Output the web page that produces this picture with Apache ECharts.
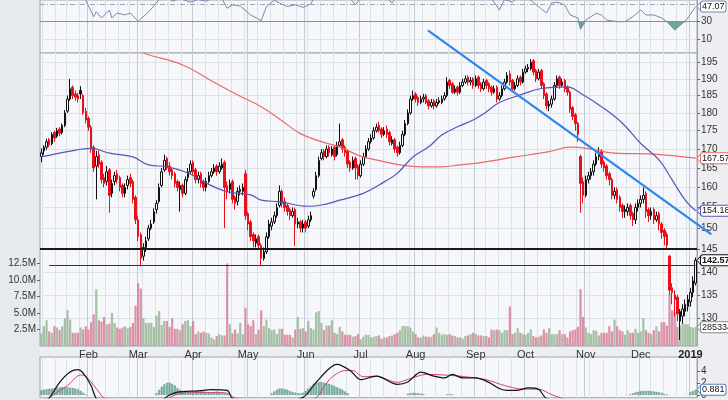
<!DOCTYPE html>
<html><head><meta charset="utf-8">
<script src="https://cdn.jsdelivr.net/npm/echarts@6/dist/echarts.min.js"></script>
<style>html,body{margin:0;padding:0;background:#eceef1}#c{width:728px;height:400px}</style>
</head><body><div id="c"></div><script>
// ---------- data ----------
const START = [2018, 0, 5];
const N = 251;
const holidays = ['2018-01-15','2018-02-19','2018-03-30','2018-05-28','2018-07-04','2018-09-03','2018-11-22','2018-12-05','2018-12-25','2019-01-01'];
const monthTicks = ['Feb','Mar','Apr','May','Jun','Jul','Aug','Sep','Oct','Nov','Dec','2019'];
const priceTicks = [130,135,140,145,150,155,160,165,170,175,180,185,190,195];
const volTicks = [2.5e6,5e6,7.5e6,10e6,12.5e6];
const rsiTicks = [10,30];
const macdTicks = [0,2,4];

const open = [
168.0,169.5,170.5,172.5,171.5,174.5,173.5,175.5,174.5,176.5,
180.5,184.0,187.5,185.5,185.0,186.5,185.0,180.5,178.5,176.0,
170.5,165.5,168.5,166.5,162.5,161.5,164.5,158.5,161.5,163.5,
162.5,160.5,158.5,160.5,162.5,161.5,157.5,152.0,148.5,143.5,
145.5,147.5,150.0,151.5,154.5,156.5,160.5,164.5,167.5,165.5,
164.5,163.5,161.5,159.5,160.5,158.5,162.5,164.0,166.5,164.5,
162.0,163.5,161.5,160.0,161.5,163.0,164.0,165.5,164.0,165.0,
166.5,160.5,159.5,161.5,157.5,156.5,159.0,159.0,163.5,153.5,
151.5,148.5,146.5,148.0,146.0,143.0,144.5,148.0,150.5,151.5,
153.0,155.5,159.0,156.5,155.5,154.5,153.0,154.5,151.0,151.5,
150.0,151.5,150.5,152.0,157.8,159.5,163.0,167.5,169.5,168.0,
170.5,168.5,170.5,168.5,171.0,172.5,170.5,169.5,166.5,165.0,
167.5,165.5,163.0,166.0,168.0,170.0,172.0,173.0,175.0,176.5,
175.5,174.0,175.5,174.5,171.5,172.5,170.5,169.0,171.0,174.0,
177.0,180.0,184.0,185.5,184.5,183.0,184.0,185.0,183.5,182.0,
183.5,182.0,183.0,183.0,184.0,185.0,189.5,188.5,186.0,187.5,
186.0,188.0,189.0,190.5,189.0,190.0,188.0,190.5,188.5,187.0,
189.5,188.5,187.5,186.0,187.5,184.0,185.0,187.0,189.0,191.5,
189.5,187.0,188.0,190.5,189.0,192.0,193.0,193.0,195.5,192.5,
190.0,192.5,188.5,185.5,182.0,182.5,184.0,188.0,190.5,188.0,
189.5,187.5,186.0,181.5,179.5,177.0,168.0,161.5,158.0,162.0,
163.0,164.0,166.0,168.0,169.5,166.5,165.5,163.5,162.0,158.0,
159.5,157.5,155.5,154.0,154.0,155.5,153.5,152.0,155.0,156.0,
157.0,158.5,154.5,153.0,154.5,152.0,153.5,151.0,149.5,148.5,
143.5,136.5,135.0,134.5,129.5,130.5,131.5,132.5,133.5,135.5,
137.5];
const close = [
169.0,170.5,172.0,171.2,174.0,173.0,175.0,174.3,176.5,180.0,
184.0,187.0,185.0,184.5,184.0,185.5,180.0,178.0,176.0,170.0,
165.0,168.0,166.0,162.0,161.0,164.0,158.0,161.0,163.0,162.0,
160.0,158.5,160.0,162.0,161.0,157.0,152.0,148.0,143.0,145.5,
147.0,150.0,151.0,154.0,156.0,160.0,164.0,167.0,165.0,164.0,
163.0,161.0,160.0,160.5,158.5,162.0,164.0,166.0,164.0,162.0,
163.0,161.0,160.0,161.5,163.0,164.0,165.0,164.0,165.5,166.0,
160.0,159.0,161.0,157.0,156.0,159.0,159.5,160.0,153.0,151.0,
148.0,147.0,147.5,146.0,143.0,144.5,148.0,151.0,151.5,153.0,
155.0,159.0,156.0,155.0,154.0,153.0,154.0,151.0,151.5,150.0,
151.0,150.0,152.0,153.0,159.0,163.0,167.0,169.0,168.0,170.0,
169.0,170.0,168.0,171.0,172.0,170.0,169.0,166.0,165.0,167.0,
165.0,163.0,166.0,168.0,170.0,172.0,173.0,175.0,176.0,175.0,
174.0,175.0,174.0,172.0,172.5,170.0,169.0,171.0,174.0,177.0,
180.0,184.0,185.0,184.0,183.0,184.0,184.5,183.0,182.0,183.0,
182.0,183.0,183.5,184.0,185.0,189.0,188.0,186.0,187.0,186.0,
188.0,189.0,190.0,189.0,189.5,188.0,190.0,188.0,187.0,189.0,
188.0,187.0,186.0,187.0,184.0,185.0,187.0,189.0,191.0,189.0,
187.0,188.0,190.0,189.0,192.0,193.0,193.5,195.0,192.0,190.0,
192.0,188.0,185.0,182.0,182.5,184.0,188.0,190.0,188.0,189.0,
187.0,186.0,181.0,179.0,177.0,174.0,161.0,158.0,162.0,163.0,
164.0,166.0,168.0,169.0,166.0,165.0,163.0,162.0,158.0,159.0,
157.0,155.0,154.0,154.5,155.0,153.0,152.0,155.0,156.0,157.0,
158.0,154.0,153.0,154.0,152.0,153.0,151.0,149.0,148.0,146.0,
136.0,135.5,134.0,131.0,131.5,132.0,133.0,134.0,135.5,138.0,
142.57];
const high = [
170.2,171.0,172.8,173.0,174.6,175.0,175.8,176.0,177.0,180.8,
185.0,190.0,188.0,186.5,185.8,187.8,185.5,181.5,179.0,176.5,
171.0,169.5,169.5,167.0,163.5,165.5,165.0,162.0,164.0,164.5,
163.0,161.0,161.0,163.0,163.5,162.0,158.0,153.0,149.0,146.5,
148.0,150.8,152.0,154.8,156.8,161.0,165.0,168.5,168.0,166.5,
165.0,164.0,162.0,161.5,161.0,162.8,165.0,167.0,167.0,165.0,
164.0,164.0,162.0,162.5,164.0,165.0,166.0,166.0,166.5,167.5,
167.0,161.5,162.0,162.0,158.0,160.0,160.5,161.0,164.5,154.0,
152.0,149.0,148.5,148.5,146.5,145.5,149.0,152.0,152.5,154.0,
156.0,160.5,159.5,157.5,156.0,155.0,155.0,155.0,152.5,152.0,
152.0,152.0,153.0,154.0,159.8,164.0,168.0,170.0,170.0,171.0,
171.0,170.8,171.0,172.0,177.0,173.0,171.0,170.0,167.0,168.0,
168.0,166.0,167.0,169.0,171.0,173.0,174.0,176.0,177.0,177.5,
176.0,176.0,176.5,175.0,173.5,173.0,171.0,172.0,175.0,178.0,
181.0,185.0,186.5,186.0,185.0,185.0,185.5,185.5,184.0,184.0,
184.0,184.0,184.5,185.0,186.0,190.5,190.0,189.0,188.0,188.0,
189.0,190.0,191.0,191.0,190.5,190.5,191.0,191.0,189.0,190.0,
190.0,189.0,188.0,188.0,188.0,186.0,188.0,190.0,192.0,192.5,
190.0,189.0,191.0,191.0,193.0,194.0,194.5,196.0,196.0,193.0,
193.0,193.0,189.0,186.0,183.5,185.0,189.0,191.0,191.0,190.0,
190.0,188.0,186.5,182.0,180.0,177.5,168.5,162.5,163.0,164.0,
165.0,167.0,169.0,170.5,170.0,167.0,166.0,164.0,162.5,160.0,
160.0,158.0,156.0,155.5,156.0,156.0,154.0,156.0,157.0,158.0,
160.0,159.0,155.0,155.0,155.0,154.0,154.0,151.5,150.0,149.0,
143.8,137.5,136.0,135.0,132.0,133.0,134.0,135.0,136.5,139.0,
143.2];
const low = [
166.5,168.5,169.8,170.5,171.0,172.0,173.0,173.5,174.0,176.0,
180.0,183.5,184.0,183.5,183.0,184.0,179.5,177.0,175.0,169.0,
164.0,157.0,165.0,161.0,160.0,160.5,153.7,157.5,160.5,161.0,
159.0,157.5,157.5,159.5,160.0,156.0,151.0,147.0,141.2,142.5,
144.5,147.0,149.5,151.0,153.5,156.0,160.0,164.0,164.5,163.0,
162.0,160.0,159.0,154.0,157.5,158.0,161.5,163.5,163.0,161.0,
161.0,160.0,159.0,159.0,161.0,162.5,163.5,163.0,163.5,164.5,
150.0,157.0,158.5,156.0,154.5,155.5,158.0,158.0,152.0,149.5,
147.0,145.5,145.5,145.0,141.5,142.5,144.0,147.5,149.5,151.0,
152.5,155.0,155.0,154.0,153.0,152.0,152.5,145.8,150.0,149.0,
149.0,149.0,150.0,151.5,157.2,159.0,162.5,167.0,167.0,167.5,
168.0,168.0,167.0,168.0,170.5,169.0,168.0,165.0,164.0,164.5,
162.0,162.0,162.5,165.5,167.5,169.5,171.5,172.5,174.5,174.5,
173.0,173.5,173.0,171.0,171.0,169.0,168.0,168.5,170.5,173.5,
176.5,179.5,183.5,183.0,182.0,182.5,183.0,182.5,181.0,181.5,
181.0,181.5,182.5,182.5,183.5,184.5,187.0,185.5,185.5,185.0,
185.5,187.5,188.5,188.0,188.0,187.0,187.5,187.0,186.0,186.5,
187.0,186.0,185.0,185.5,183.0,183.5,184.5,186.5,188.5,188.0,
186.0,186.5,187.5,188.0,188.5,191.5,192.0,192.5,191.0,189.0,
189.5,187.0,184.0,181.0,180.5,181.5,183.5,187.5,187.0,187.5,
186.0,185.0,180.0,178.0,175.0,172.0,153.7,156.0,157.5,161.0,
162.0,163.0,165.5,167.0,165.0,164.0,162.0,160.5,157.0,157.0,
156.0,154.0,152.5,152.5,153.0,152.0,150.5,151.0,154.0,155.0,
156.0,152.5,151.5,152.0,151.0,151.5,149.5,147.5,146.0,145.2,
135.0,133.0,130.5,129.5,125.7,129.0,130.5,131.5,132.5,134.5,
137.0];
// volume in millions of shares
const volumeM = [
1.9,3.0,3.9,2.2,2.0,3.0,2.8,2.4,3.0,4.2,
5.4,4.0,2.0,2.0,2.0,2.8,2.5,3.0,2.5,3.6,
4.8,8.6,3.9,3.7,4.4,3.3,3.4,5.0,3.5,2.8,
2.6,2.8,3.0,2.7,2.9,3.5,6.1,9.5,8.7,4.2,
3.5,3.5,3.5,2.9,4.6,5.3,3.2,3.8,3.8,2.9,4.2,
2.6,2.6,2.4,3.3,3.8,3.9,3.0,3.8,1.8,2.2,
2.0,2.2,2.0,1.9,1.3,1.0,1.5,1.8,1.6,1.6,
12.5,3.3,1.9,2.5,1.9,3.5,1.8,5.8,3.3,3.0,
3.9,1.8,2.5,5.4,3.0,4.0,2.7,2.4,2.5,1.8,
2.6,2.6,1.7,1.7,1.7,1.3,2.5,4.4,2.6,2.7,
2.2,3.8,2.7,2.5,5.1,5.3,3.5,2.4,3.1,3.1,3.9,
2.0,1.8,2.9,2.2,1.7,1.7,1.7,1.4,1.5,1.8,
1.0,1.4,
1.7,1.7,1.3,1.4,1.5,1.6,1.1,1.3,1.3,1.5,
1.6,1.8,2.0,2.4,3.0,3.0,3.0,2.8,2.2,1.8,
1.3,1.3,1.6,1.4,1.4,1.4,1.8,2.8,2.0,1.7,
1.8,1.7,1.8,1.6,1.5,1.3,1.3,1.1,1.5,1.6,1.8,
2.0,1.8,1.6,1.6,1.5,1.5,1.3,2.5,2.4,2.5,
2.4,2.0,2.4,2.4,6.0,1.8,2.0,2.7,2.0,1.8,
1.7,2.0,2.5,1.5,1.3,1.4,1.6,2.5,2.0,2.7,1.8,
1.8,1.8,2.4,1.8,1.8,1.3,2.2,2.4,2.5,2.9,
8.6,4.4,2.8,2.0,1.8,2.4,2.3,1.6,2.0,2.0,2.0,
3.0,2.2,4.0,3.0,2.4,2.2,1.7,2.4,2.0,2.0,
2.6,2.0,2.2,4.2,2.4,2.0,1.8,2.4,3.0,2.2,
3.6,3.6,3.1,7.9,5.4,5.1,2.9,3.1,3.5,3.3,
3.3,2.9,2.8,2.85334];
// moving averages read at [day index, value]
const ma50Pts = [[0,167.9],[10,169.3],[19,170.2],[26,168.9],[35,167.9],[41,165.8],[48,165.3],[56,163.7],[63,161.1],[71,158.9],[80,158.1],[84,156.8],[91,156.4],[102,155.3],[107,155.6],[114,156.8],[123,158.5],[131,161.4],[136,163.6],[142,167.9],[148,170.6],[153,173.8],[159,176.1],[165,178.0],[170,180.3],[175,183.0],[183,185.2],[191,187.1],[201,187.6],[206,185.7],[214,181.8],[222,177.1],[229,171.5],[236,167.1],[241,161.9],[246,156.8],[250,154.18]];
const ma200Pts = [[30,201.5],[39,197.9],[54,194.2],[67,188.5],[76,184.8],[84,181.8],[91,178.3],[99,174.2],[107,172.0],[114,170.6],[122,168.1],[130,166.8],[137,165.8],[145,165.3],[153,165.3],[160,165.8],[168,166.4],[181,167.9],[194,169.3],[202,170.5],[210,170.0],[219,168.9],[232,168.7],[240,168.3],[250,167.57]];
const rsiPts = [[0,62],[8,70],[14,66],[17,54],[20,35.5],[21,41],[23,34],[26,43],[27,34],[29,39.7],[32,37.4],[34,39.7],[37,30.2],[41,41],[44,51],[45,56],[48,60],[50,53],[53,56],[57,52],[60,55],[63,53],[66,57],[69,56],[71,45],[73,48.8],[76,47.6],[80,37.4],[84,31],[86,46.8],[89,54],[91,51],[94,47],[97,49],[100,46],[103,50],[105,62],[112,65],[118,56],[120,49],[122,56],[128,62],[132,57],[134,51],[136,58],[145,68],[160,66],[171,58],[173,52],[175,43],[177,55],[180,52],[183,60],[187,54],[190,46.8],[193,39.7],[195,51],[197,52],[200,48.8],[202,37.4],[205,34],[206,21],[208,31.7],[212,39.3],[214,37.4],[216,31.7],[220,29.8],[223,29.8],[226,35.5],[229,43],[231,37.4],[234,37.4],[237,34],[239,29.8],[242,20.3],[245,28],[247,34],[250,47.07]];
const macdPts = [[0,-1.2],[3,-0.5],[7,2.15],[11,3.9],[14,4.3],[16,3.7],[19,1.6],[21,-0.6],[25,-2.2],[35,-3.2],[45,-1.2],[49,0],[52,0.5],[55,0.6],[60,0.7],[65,0.9],[71,0.8],[73,-0.6],[80,-2.0],[90,-1.5],[100,-0.4],[105,2.15],[110,4.5],[113,5.2],[118,4.15],[122,2.6],[128,3.2],[136,1.8],[140,2.2],[145,3.9],[150,3.2],[154,2.9],[157,3.5],[161,2.9],[166,2.9],[171,2.15],[175,1.1],[178,0.77],[182,0.8],[186,1.2],[190,0.97],[193,-0.6],[205,-2.0],[215,-4.0],[230,-4.2],[240,-4.0],[250,-3.0]];
const signalPts = [[0,-2.0],[3,-0.5],[10,1.6],[15,3.4],[17,3.2],[21,1.1],[24,-0.5],[35,-2.2],[45,-1.5],[50,-0.2],[54,0.3],[60,0.4],[70,0.4],[74,-0.5],[85,-1.8],[100,-1.2],[105,-0.5],[110,2.6],[116,4.15],[119,4.15],[123,3.1],[128,3.2],[136,2.15],[141,2.8],[147,3.5],[154,3.4],[162,3.1],[170,2.6],[177,1.6],[184,1.0],[190,1.0],[195,0.05],[205,-1.5],[220,-3.5],[240,-4.2],[250,-3.6]];
const histPts = [[0,0.8],[1,0.9],[2,1.0],[3,1.05],[4,1.1],[5,1.15],[6,1.2],[7,1.3],[8,1.35],[9,1.35],[10,1.3],[11,1.25],[12,1.2],[13,1.1],[14,0.95],[15,0.7],[16,0.4],[17,0.1],
[44,0.3],[45,0.9],[46,1.4],[47,1.8],[48,2.1],[49,2.1],[50,1.9],[51,1.6],[52,1.2],[53,0.9],[54,0.7],[55,0.6],[56,0.6],[57,0.5],[58,0.55],[59,0.6],[60,0.65],[61,0.7],[62,0.6],[63,0.5],[64,0.45],[65,0.5],[66,0.55],[67,0.6],[68,0.5],[69,0.4],[70,0.3],[71,0.2],
[88,0.3],[89,0.6],[90,0.9],[91,1.1],[92,1.1],[93,1.0],[94,0.9],[95,0.7],[96,0.5],[97,0.4],[98,0.3],[99,0.3],[100,0.4],[101,0.7],[102,1.1],[103,1.5],[104,1.9],[105,2.1],[106,2.2],[107,2.2],[108,2.1],[109,2.0],[110,1.9],[111,1.7],[112,1.5],[113,1.3],[114,1.1],[115,0.9],[116,0.6],[117,0.3],
[140,0.2],[141,0.3],[142,0.35],[143,0.35],[144,0.3],[145,0.25],[146,0.15],[155,0.1],[156,0.15],[157,0.1],
[225,0.1],[226,0.3],[227,0.45],[228,0.55],[229,0.65],[230,0.7],[231,0.7],[232,0.7],[233,0.65],[234,0.6],[235,0.55],[236,0.45],[237,0.35],[238,0.2],[239,0.05],[248,0.5],[249,0.7],[250,0.881]];
const supportLevels = [145.1, 141.5];
const trendAnchors = [[191, 180.3], [245, 153.5]];
const trendSpan = [147.7, 256];
const tags = { rsi: '47.07', ma200: '167.57', ma50: '154.18', last: '142.57', vol: '2853340', macd: '0.881' };

// ---------- trading calendar ----------
const dates = [];
(function(){
  const d = new Date(Date.UTC(START[0], START[1], START[2]));
  while (dates.length < N) {
    const wd = d.getUTCDay(), s = d.toISOString().slice(0,10);
    if (wd !== 0 && wd !== 6 && holidays.indexOf(s) < 0) dates.push(s);
    d.setUTCDate(d.getUTCDate() + 1);
  }
})();
const isMonthStart = dates.map((s,i) => i > 0 && s.slice(0,7) !== dates[i-1].slice(0,7));
const isWeekStart = dates.map((s,i) => {
  if (i === 0) return false;
  const a = new Date(dates[i-1] + 'T00:00:00Z'), b = new Date(s + 'T00:00:00Z');
  return b.getUTCDay() <= a.getUTCDay() || (b - a) > 4 * 864e5;
});
const monthLabelAt = {};
(function(){ let m = 0; isMonthStart.forEach((f,i) => { if (f) monthLabelAt[i] = monthTicks[m++]; }); })();

// ---------- styles ----------
const RED = '#e8101a', BLK = '#111111';
const candleData = close.map((c,i) => {
  const o = open[i], prev = i ? close[i-1] : o;
  const col = c >= prev ? BLK : RED;
  const fill = c > o ? '#f8f9fb' : col;
  return { value: [o, c, low[i], high[i]], itemStyle: { color: fill, color0: fill, borderColor: col, borderColor0: col, borderWidth: 1 } };
});
const volData = volumeM.map((v,i) => {
  const up = i === 0 ? close[0] >= open[0] : close[i] >= close[i-1];
  return { value: v * 1e6, itemStyle: { color: up ? 'rgba(150,182,148,0.85)' : 'rgba(214,128,152,0.85)' } };
});
const rsiFillBase = rsiPts.map(p => [p[0], Math.min(p[1], 30)]);
const rsiFillTop = rsiPts.map(p => [p[0], 30 - Math.min(p[1], 30)]);

const L = 40, R = 31;
const gridBg = '#f5f7fa', gridBorder = '#9ca2ab';
const weekLine = { show: true, interval: (i) => isWeekStart[i], lineStyle: { color: '#dde1e8', width: 1 } };
const monthLine = { show: true, interval: (i) => isMonthStart[i], lineStyle: { color: '#c6cad2', width: 1 } };
function xa(g, extra) {
  return Object.assign({ type: 'category', gridIndex: g, data: dates, boundaryGap: true,
    axisLine: { show: false }, axisTick: { show: false }, axisLabel: { show: false }, splitLine: { show: false } }, extra);
}
const lblFont = { fontFamily: 'Liberation Sans, Arial, sans-serif', fontSize: 10, color: '#333' };

const option = {
  animation: false,
  backgroundColor: '#eceef1',
  grid: [
    { left: L, right: R, top: 0, height: 53, show: true, backgroundColor: gridBg, borderColor: gridBorder },
    { left: L, right: R, top: 53, height: 293, show: true, backgroundColor: gridBg, borderColor: gridBorder },
    { left: L, right: R, top: 357, height: 45, show: true, backgroundColor: gridBg, borderColor: gridBorder }
  ],
  xAxis: [
    xa(0, { splitLine: weekLine }),
    xa(1, { splitLine: weekLine, axisLabel: { show: true, interval: (i) => isMonthStart[i], margin: 3,
      formatter: (v, i) => { const t = monthLabelAt[i] || ''; return t === '2019' ? '{b|2019}' : t; },
      fontFamily: 'Liberation Sans, Arial, sans-serif', fontSize: 11, color: '#333',
      rich: { b: { fontWeight: 'bold', fontSize: 11, color: '#222', fontFamily: 'Liberation Sans, Arial, sans-serif' } } } }),
    xa(2, { splitLine: weekLine }),
    xa(0, { splitLine: monthLine }),
    xa(1, { splitLine: monthLine }),
    xa(2, { splitLine: monthLine })
  ],
  yAxis: [
    { gridIndex: 0, type: 'value', min: -5.8, max: 54.4, position: 'right',
      axisLine: { show: true, lineStyle: { color: gridBorder } }, axisTick: { show: true, length: 3, customValues: rsiTicks, lineStyle: { color: '#666' } },
      splitLine: { show: false }, axisLabel: Object.assign({ customValues: rsiTicks, margin: 4 }, lblFont) },
    { gridIndex: 1, type: 'log', logBase: 10, min: 124.5, max: 197.9, position: 'right',
      axisLine: { show: true, lineStyle: { color: gridBorder } },
      axisTick: { show: true, length: 3, customValues: priceTicks, lineStyle: { color: '#666' } },
      splitLine: { show: true, lineStyle: { color: '#dde1e8' } },
      axisLabel: Object.assign({ customValues: priceTicks, margin: 4 }, lblFont) },
    { gridIndex: 1, type: 'value', min: 0, max: 44.4e6, position: 'left',
      axisLine: { show: false }, axisTick: { show: true, length: 3, customValues: volTicks, lineStyle: { color: '#666' } },
      splitLine: { show: false },
      axisLabel: Object.assign({ customValues: volTicks, margin: 4, formatter: (v) => (v / 1e6).toFixed(1) + 'M' }, lblFont) },
    { gridIndex: 2, type: 'value', min: -0.46, max: 6.46, position: 'right',
      axisLine: { show: true, lineStyle: { color: gridBorder } }, axisTick: { show: true, length: 3, customValues: macdTicks, lineStyle: { color: '#666' } },
      splitLine: { show: false }, axisLabel: Object.assign({ customValues: macdTicks, margin: 4 }, lblFont) }
  ],
  series: [
    // RSI
    { type: 'line', xAxisIndex: 0, yAxisIndex: 0, data: rsiFillBase, stack: 'rsi', showSymbol: false, lineStyle: { width: 0 }, silent: true },
    { type: 'line', xAxisIndex: 0, yAxisIndex: 0, data: rsiFillTop, stack: 'rsi', showSymbol: false, lineStyle: { width: 0 },
      areaStyle: { color: '#6fa796', opacity: 1 }, silent: true },
    { type: 'line', xAxisIndex: 0, yAxisIndex: 0, data: rsiPts, showSymbol: false, clip: true,
      lineStyle: { color: '#7c86b2', width: 1 },
      markLine: { silent: true, symbol: 'none', label: { show: false },
        data: [ { yAxis: 30, lineStyle: { color: '#888d96', width: 1, type: 'solid' } },
                { yAxis: 50, lineStyle: { color: '#a0a5ae', width: 1, type: [5, 2, 1, 2] } },
                { yAxis: 10, lineStyle: { color: '#dde1e8', width: 1, type: 'solid' } } ] } },
    // Volume
    { type: 'bar', xAxisIndex: 1, yAxisIndex: 2, data: volData, barCategoryGap: '15%', silent: true },
    // Moving averages
    { type: 'line', xAxisIndex: 1, yAxisIndex: 1, data: ma200Pts, showSymbol: false, smooth: 0.4, clip: true,
      lineStyle: { color: '#e86a6a', width: 1.2 } },
    { type: 'line', xAxisIndex: 1, yAxisIndex: 1, data: ma50Pts, showSymbol: false, smooth: 0.4, clip: true,
      lineStyle: { color: '#5656b8', width: 1.2 } },
    // Candles
    { type: 'candlestick', xAxisIndex: 1, yAxisIndex: 1, data: candleData, barWidth: 2,
      markLine: { silent: true, symbol: 'none', label: { show: false },
        data: [ { yAxis: supportLevels[0], lineStyle: { color: '#1a1a1a', width: 2, type: 'solid' } },
                [ { coord: [3, supportLevels[1]] }, { coord: [N - 1, supportLevels[1]] } ] ],
        lineStyle: { color: '#333', width: 1, type: 'solid' } } },
    // MACD
    { type: 'bar', xAxisIndex: 2, yAxisIndex: 3, data: histPts, barWidth: 2,
      itemStyle: { color: '#7db5a3', borderColor: '#5b9583', borderWidth: 0.5 }, silent: true },
    { type: 'line', xAxisIndex: 2, yAxisIndex: 3, data: signalPts, showSymbol: false, smooth: 0.3, clip: true,
      lineStyle: { color: '#d2456a', width: 1 } },
    { type: 'line', xAxisIndex: 2, yAxisIndex: 3, data: macdPts, showSymbol: false, smooth: 0.3, clip: true,
      lineStyle: { color: '#111', width: 1.2 } }
  ]
};

const chart = echarts.init(document.getElementById('c'), null, { renderer: 'canvas' });
chart.setOption(option);

// ---------- overlays: trend line and value tags ----------
function px(xi, yi, x, y) { return chart.convertToPixel({ xAxisIndex: xi, yAxisIndex: yi }, [x, y]); }
const A = px(1, 1, trendAnchors[0][0], trendAnchors[0][1]);
const B = px(1, 1, trendAnchors[1][0], trendAnchors[1][1]);
const pxPerDay = (B[0] - A[0]) / (trendAnchors[1][0] - trendAnchors[0][0]);
const slope = (B[1] - A[1]) / (B[0] - A[0]);
const x1 = A[0] + (trendSpan[0] - trendAnchors[0][0]) * pxPerDay;
const x2 = A[0] + (trendSpan[1] - trendAnchors[0][0]) * pxPerDay;
const elems = [
  { type: 'rect', shape: { x: 0, y: 0, width: L, height: 400 }, style: { fill: '#e6e9ed' }, z: -1, silent: true },
  { type: 'line', shape: { x1: x1, y1: A[1] + (x1 - A[0]) * slope, x2: x2, y2: A[1] + (x2 - A[0]) * slope },
    style: { stroke: '#2f86ea', lineWidth: 2.2 }, z: 50, silent: true }
];
const tagX = 700;
function tag(y, text, border, bold) {
  elems.push({ type: 'polygon', shape: { points: [[tagX - 3, y], [tagX + 1, y - 4.5], [tagX + 1, y + 4.5]] }, style: { fill: '#fff', stroke: border, lineWidth: 1 }, z: 60, silent: true });
  elems.push({ type: 'text', x: tagX + 1, y: y, z: 61, silent: true,
    style: { text: text, fill: '#111', font: (bold ? 'bold ' : '') + '9px Liberation Sans, Arial, sans-serif',
      verticalAlign: 'middle', align: 'left', backgroundColor: '#fff', borderColor: border, borderWidth: 1,
      borderRadius: 2, padding: [1, 1, 0, 1] } });
}
tag(px(0, 0, N - 1, parseFloat(tags.rsi))[1], tags.rsi, '#7c86b2', false);
tag(px(1, 1, N - 1, ma200Pts[ma200Pts.length - 1][1])[1], tags.ma200, '#e86a6a', false);
tag(px(1, 1, N - 1, ma50Pts[ma50Pts.length - 1][1])[1], tags.ma50, '#5656b8', false);
tag(px(1, 1, N - 1, close[N - 1])[1], tags.last, '#111', true);
tag(px(1, 2, N - 1, volumeM[N - 1] * 1e6)[1], tags.vol, '#888', false);
tag(px(2, 3, N - 1, histPts[histPts.length - 1][1])[1], tags.macd, '#5a7fc0', false);
chart.setOption({ graphic: { elements: elems } });
</script></body></html>
